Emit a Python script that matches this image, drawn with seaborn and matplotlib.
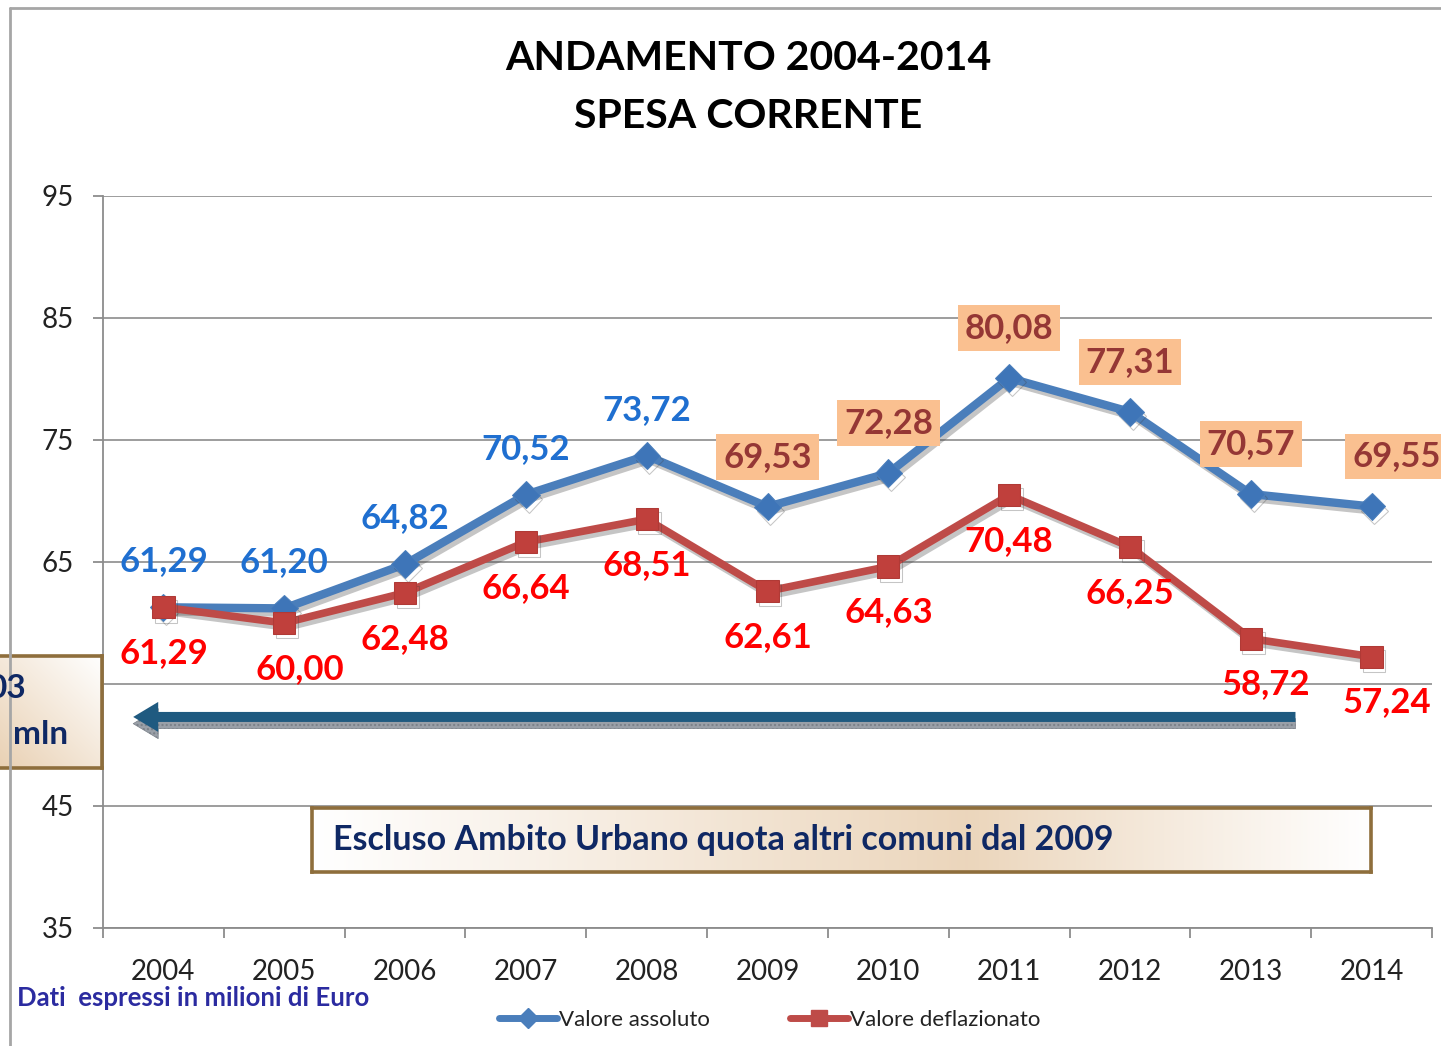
import numpy as np
import pandas as pd
import matplotlib
matplotlib.use("Agg")
import matplotlib.pyplot as plt
import matplotlib.patheffects as pe
from matplotlib.lines import Line2D
import seaborn as sns

# ---------------- data ----------------
years = [2004, 2005, 2006, 2007, 2008, 2009, 2010, 2011, 2012, 2013, 2014]
valore_assoluto = [61.29, 61.20, 64.82, 70.52, 73.72, 69.53, 72.28, 80.08, 77.31, 70.57, 69.55]
valore_deflazionato = [61.29, 60.00, 62.48, 66.64, 68.51, 62.61, 64.63, 70.48, 66.25, 58.72, 57.24]
y_ticks = [35, 45, 55, 65, 75, 85, 95]
series_names = ["Valore assoluto", "Valore deflazionato"]
title_lines = ["ANDAMENTO 2004-2014", "SPESA CORRENTE"]
note_text = "Escluso Ambito Urbano quota altri comuni dal 2009"
footnote = "Dati  espressi in milioni di Euro"
side_box_lines = ["03", "mln"]
boxed_from_year = 2009

# ---------------- style ----------------
BLUE = "#4A7EBB"
BLUE_TXT = "#1F6FD0"
RED = "#BE4B48"
RED_TXT = "#FF0000"
BOX_FC = "#FAC090"
BOX_TXT = "#953735"
GRID = "#8C8C8C"
NAVY = "#0F2864"
BROWN = "#8E6E3C"
ARROW = "#1F5A80"

sns.set_theme(style="white")
plt.rcParams["font.family"] = ["Lato", "DejaVu Sans"]

W, H = 1441, 1046
fig = plt.figure(figsize=(W / 100, H / 100), dpi=100)
fig.patch.set_facecolor("white")


def fx(px):
    return px / W


def fy(py):
    return 1 - py / H


ax = fig.add_axes([fx(103), fy(928), fx(1432) - fx(103), fy(196) - fy(928)])
ax.set_facecolor("white")

df = pd.DataFrame({"Anno": years,
                   series_names[0]: valore_assoluto,
                   series_names[1]: valore_deflazionato})

shadow = [pe.SimpleLineShadow(offset=(2, -3), shadow_color="#404040", alpha=0.3, rho=1), pe.Normal()]

sns.lineplot(data=df, x="Anno", y=series_names[0], ax=ax, color=BLUE, lw=6,
             marker="D", markersize=14, markeredgecolor=BLUE, markerfacecolor="#3E75B8",
             legend=False, zorder=4, path_effects=shadow)
sns.lineplot(data=df, x="Anno", y=series_names[1], ax=ax, color=RED, lw=5.5,
             marker="s", markersize=16, markeredgecolor="#B03A36", markerfacecolor="#C0403C",
             legend=False, zorder=5, path_effects=shadow)

ax.set_xlim(years[0] - 0.5, years[-1] + 0.5)
ax.set_ylim(y_ticks[0], y_ticks[-1])
ax.set_yticks(y_ticks)
ax.set_xticks(years)
ax.set_xticklabels([str(y) for y in years])
ax.set_xticks(np.arange(years[0] - 0.5, years[-1] + 1, 1), minor=True)
ax.set_xlabel("")
ax.set_ylabel("")
ax.tick_params(axis="x", which="major", length=0, pad=22, labelsize=20, labelcolor="#222222")
ax.tick_params(axis="x", which="minor", length=7, width=1.3, color=GRID, direction="out", bottom=True)
ax.tick_params(axis="y", length=7, width=1.3, color=GRID, pad=14, labelsize=20,
               labelcolor="#222222", left=True, direction="out")
ax.grid(axis="y", color=GRID, lw=1.2)
ax.grid(axis="x", visible=False)
ax.set_axisbelow(True)
for s in ["top", "right"]:
    ax.spines[s].set_visible(False)
for s in ["left", "bottom"]:
    ax.spines[s].set_color(GRID)
    ax.spines[s].set_linewidth(1.3)


def fmt(v):
    return f"{v:.2f}".replace(".", ",")


LBL = 25
# data labels
for x, v in zip(years, valore_assoluto):
    if x < boxed_from_year:
        ax.annotate(fmt(v), (x, v), xytext=(0, 33), textcoords="offset points",
                    ha="center", va="center", color=BLUE_TXT, fontsize=LBL,
                    fontweight="bold", zorder=6)
    else:
        dx = 18 if x == years[-1] else 0
        ax.annotate(fmt(v), (x, v), xytext=(dx, 36), textcoords="offset points",
                    ha="center", va="center", color=BOX_TXT, fontsize=LBL,
                    fontweight="bold", zorder=6,
                    bbox=dict(boxstyle="square,pad=0.2", fc=BOX_FC, ec="none"))

red_dx = {2005: 11, 2013: 11, 2014: 11}
for x, v in zip(years, valore_deflazionato):
    ax.annotate(fmt(v), (x, v), xytext=(red_dx.get(x, 0), -33), textcoords="offset points",
                ha="center", va="center", color=RED_TXT, fontsize=LBL,
                fontweight="bold", zorder=6)

# arrow with shadow
ax.annotate("", xy=(2003.75, 51.75), xytext=(2013.37, 51.75),
            arrowprops=dict(arrowstyle="simple,head_length=1.0,head_width=1.2,tail_width=0.4",
                            mutation_scale=18, fc="#9AA0A8", ec="#7A8088", lw=0.5,
                            hatch="....", shrinkA=0, shrinkB=0), zorder=3)
ax.annotate("", xy=(2003.75, 52.3), xytext=(2013.37, 52.3),
            arrowprops=dict(arrowstyle="simple,head_length=1.0,head_width=1.2,tail_width=0.4",
                            mutation_scale=18, fc=ARROW, ec=ARROW, lw=0,
                            shrinkA=0, shrinkB=0), zorder=3)

# title
fig.text(fx(748), fy(58), title_lines[0], ha="center", va="center", fontsize=29.5,
         fontweight="bold", color="black")
fig.text(fx(748), fy(117), title_lines[1], ha="center", va="center", fontsize=29.5,
         fontweight="bold", color="black")


def gradient_box(x0, y0, x1, y1, kind):
    bax = fig.add_axes([fx(x0), fy(y1), fx(x1) - fx(x0), fy(y0) - fy(y1)])
    n = 200
    beige = np.array([0.91, 0.81, 0.69])
    white = np.array([1.0, 1.0, 1.0])
    if kind == "diag":
        xx, yy = np.meshgrid(np.linspace(0, 1, n), np.linspace(0, 1, n))
        t = 1 - np.clip((xx + yy) / 2, 0, 1)
    else:
        xx = np.linspace(0, 1, n)
        t = np.where(xx < 0.62, xx / 0.62, (1 - xx) / 0.38) * 0.85
        t = np.tile(t, (n, 1))
    img = white[None, None, :] * (1 - t[..., None]) + beige[None, None, :] * t[..., None]
    bax.imshow(img, extent=[0, 1, 0, 1], aspect="auto", origin="lower")
    bax.set_xticks([])
    bax.set_yticks([])
    for s in bax.spines.values():
        s.set_color(BROWN)
        s.set_linewidth(2.6)
        s.set_visible(True)
    return bax


gradient_box(-10, 656, 102, 768, "diag")
fig.text(fx(26), fy(689), side_box_lines[0], ha="right", va="center", fontsize=24,
         fontweight="bold", color=NAVY)
fig.text(fx(68), fy(734), side_box_lines[1], ha="right", va="center", fontsize=24,
         fontweight="bold", color=NAVY)

gradient_box(312, 808, 1371, 872, "h")
fig.text(fx(333), fy(840), note_text, ha="left", va="center", fontsize=24.5,
         fontweight="bold", color=NAVY)

# footnote
fig.text(fx(17), fy(998), footnote, ha="left", va="center", fontsize=18.5,
         fontweight="bold", color="#2B2BA0")

# legend
handles = [Line2D([], [], color=BLUE, lw=5, marker="D", ms=10, mec=BLUE),
           Line2D([], [], color=RED, lw=5, marker="s", ms=11, mec=RED)]
fig.legend(handles, series_names, loc="center", bbox_to_anchor=(fx(770), fy(1020)),
           ncol=2, frameon=False, fontsize=16, handlelength=2.6, columnspacing=3.6,
           handletextpad=0.1, labelcolor="#222222")

# outer frame
fig.add_artist(Line2D([fx(10), fx(10)], [fy(8), 0], color="#A6A6A6", lw=2))
fig.add_artist(Line2D([fx(10), 1], [fy(8), fy(8)], color="#A6A6A6", lw=2))

fig.savefig("out.png", dpi=100)
